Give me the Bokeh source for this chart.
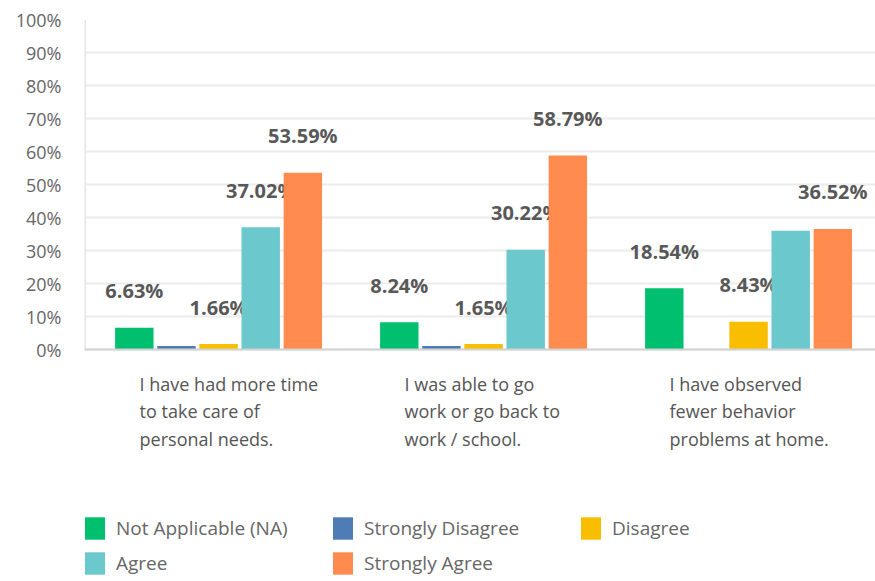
from bokeh.plotting import figure
from bokeh.models import (ColumnDataSource, FixedTicker, PrintfTickFormatter,
                          Legend, LegendItem, Range1d, Label, Span)
from bokeh.embed import file_html
from bokeh.resources import INLINE
from bokeh.core.properties import value
from bokeh.transform import dodge

# ---------------- data ----------------
groups = [
    "I have had more time\nto take care of\npersonal needs.",
    "I was able to go\nwork or go back to\nwork / school.",
    "I have observed\nfewer behavior\nproblems at home.",
]
series = ["Not Applicable (NA)", "Strongly Disagree", "Disagree", "Agree", "Strongly Agree"]
colors = ["#00bf6f", "#507cb6", "#f9be00", "#6bc8cd", "#ff8b4f"]
not_applicable = [6.63, 8.24, 18.54]
strongly_disagree = [1.10, 1.10, 0.0]
disagree = [1.66, 1.65, 8.43]
agree = [37.02, 30.22, 35.96]
strongly_agree = [53.59, 58.79, 36.52]
# which value labels the reference shows (per series, per group)
label_shown = [
    [True, True, True],
    [False, False, False],
    [True, True, True],
    [True, True, False],
    [True, True, True],
]
y_ticks = list(range(0, 101, 10))

values = [not_applicable, strongly_disagree, disagree, agree, strongly_agree]

FONT = "Open Sans"
X_START, X_END = -0.506, 2.479
Y_START, Y_END = -70.3, 100

p = figure(width=875, height=581, output_backend="svg", toolbar_location=None,
           x_range=Range1d(X_START, X_END), y_range=Range1d(Y_START, Y_END),
           x_axis_location=None,
           min_border_left=84, min_border_right=0, min_border_top=19,
           min_border_bottom=0)

# light vertical line on the left from 0% to 100%
p.segment(x0=[X_START], y0=[0], x1=[X_START], y1=[100],
          line_color="#e6e6e6", line_width=3)

step = 0.159
bar_w = 0.145
items = []
for i, (name, vals, col) in enumerate(zip(series, values, colors)):
    src = ColumnDataSource(dict(
        x=list(range(len(groups))),
        top=vals,
        label=[f"{v:.2f}%" if s else "" for v, s in zip(vals, label_shown[i])],
    ))
    off = (i - 2) * step
    r = p.vbar(x=dodge("x", off, range=p.x_range), top="top", width=bar_w,
               source=src, fill_color=col, line_color=None)
    items.append(LegendItem(label=name, renderers=[r]))
    if any(label_shown[i]):
        p.text(x=dodge("x", off, range=p.x_range), y="top", text="label", source=src,
               text_align="center", text_baseline="middle", y_offset=-37,
               text_font=value(FONT), text_font_size="20px", text_font_style="bold",
               text_color="#585858")

# baseline
p.add_layout(Span(location=0, dimension="width", line_color="#d2d2d2", line_width=2))

# category labels (left-aligned multi-line blocks under each group)
for i, g in enumerate(groups):
    p.add_layout(Label(x=i, y=-6.7, x_offset=-79, text=g,
                       text_align="left", text_baseline="top",
                       text_font=FONT, text_font_size="18px",
                       text_color="#555555", text_line_height=1.15))

# y axis
p.yaxis.ticker = FixedTicker(ticks=y_ticks)
p.yaxis.formatter = PrintfTickFormatter(format="%d%%")
p.yaxis.major_tick_line_color = None
p.yaxis.minor_tick_line_color = None
p.yaxis.major_tick_out = 0
p.yaxis.axis_line_color = None
p.yaxis.major_label_text_font = FONT
p.yaxis.major_label_text_font_size = "18px"
p.yaxis.major_label_text_color = "#666666"
p.yaxis.major_label_standoff = 23

p.xgrid.grid_line_color = None
p.ygrid.grid_line_color = "#ececec"
p.ygrid.grid_line_width = 2
p.ygrid.ticker = FixedTicker(ticks=y_ticks)
p.outline_line_color = None

legend = Legend(items=items, orientation="horizontal", ncols=3,
                location=(-2, 4),
                glyph_width=25, glyph_height=28, label_standoff=9, label_width=207,
                spacing=7, margin=0, padding=0,
                label_text_font=FONT, label_text_font_size="19px",
                label_text_color="#666666",
                border_line_color=None, background_fill_alpha=0)
p.add_layout(legend)

open("out.html", "w").write(file_html(p, INLINE))
